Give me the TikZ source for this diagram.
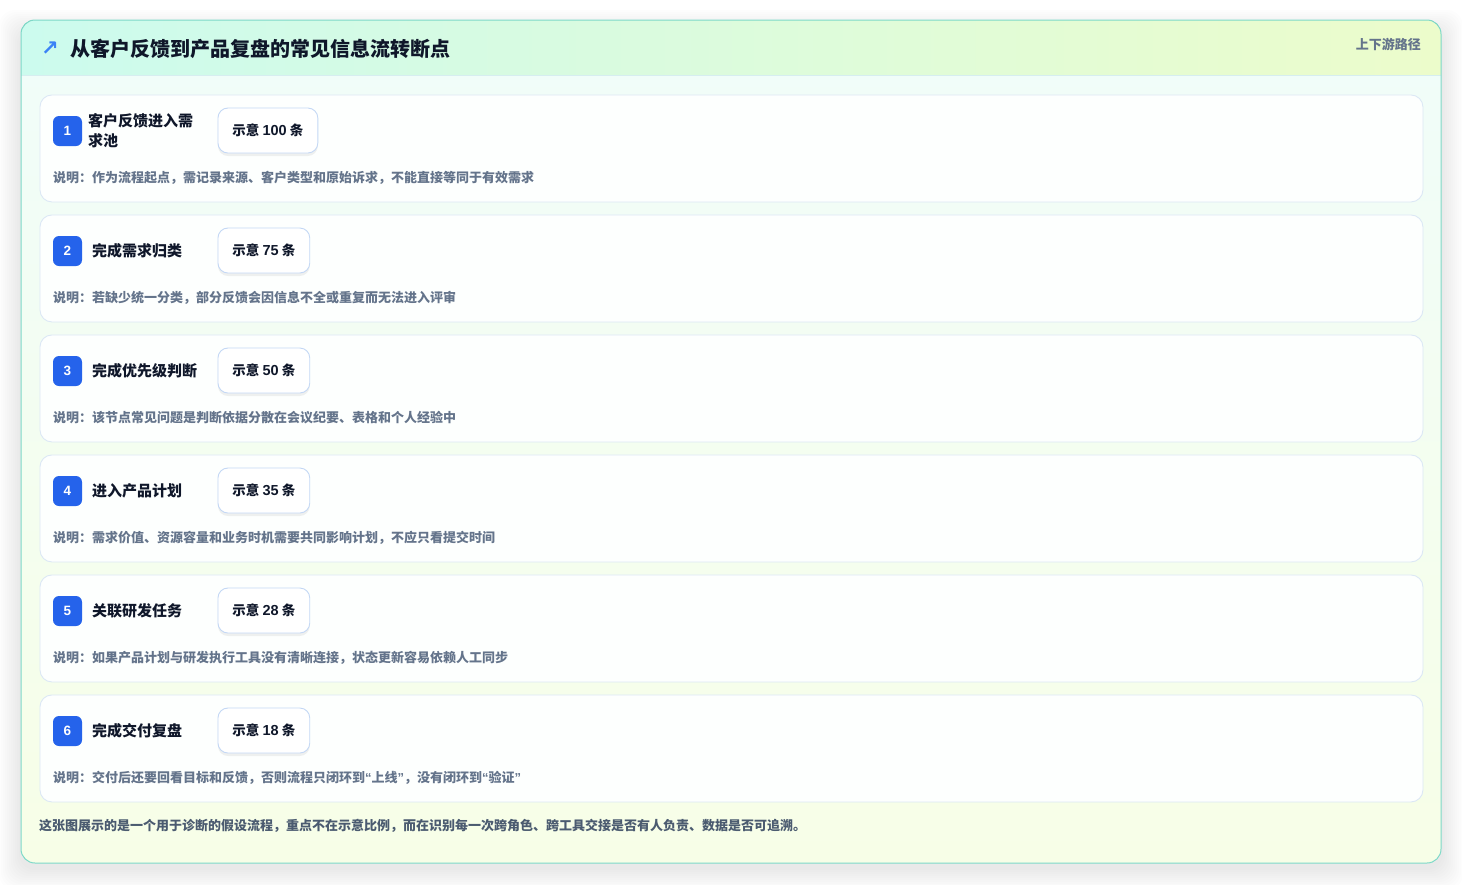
\documentclass[tikz,border=0pt]{standalone}
\usepackage{fontspec}
\setmainfont{Noto Sans CJK SC}
\newfontfamily\dejavu{DejaVu Sans}
\newfontfamily\latn{Liberation Sans}
\newfontfamily\latnb{Liberation Sans Bold}
\usetikzlibrary{shadows}
\definecolor{headl}{HTML}{CCFBEE}
\definecolor{headr}{HTML}{ECFCCB}
\definecolor{bodytop}{HTML}{F0FDFA}
\definecolor{bodybot}{HTML}{F7FEE7}
\definecolor{outerline}{HTML}{7DD9C8}
\definecolor{headsep}{HTML}{D6EEF0}
\definecolor{cardline}{HTML}{DCE8F5}
\definecolor{cardfill}{HTML}{FDFFFE}
\definecolor{badgeblue}{HTML}{2563EB}
\definecolor{pillline}{HTML}{C4D8F5}
\definecolor{ink}{HTML}{0F172A}
\definecolor{muted}{HTML}{64748B}
\definecolor{foot}{HTML}{4B5B70}
\definecolor{arrowblue}{HTML}{3B82F6}
\newcommand{\pnum}[1]{{\latnb\fontsize{14.5}{14}\selectfont #1}}
\newcommand{\myLq}{{\latn “}}
\newcommand{\myRq}{{\latn ”}}
\tikzset{
  cardbox/.style={draw=cardline, line width=0.9pt, fill=cardfill, rounded corners=12pt,
    minimum width=1383pt, minimum height=107pt, anchor=north west, inner sep=0pt},
  badge/.style={fill=badgeblue, rounded corners=6pt, minimum width=29pt, minimum height=30pt,
    inner sep=0pt, text=white, font=\latnb\fontsize{13.5}{13}\selectfont, anchor=center},
  ctitle/.style={anchor=west, inner sep=0pt, text=ink, font=\fontsize{15}{20}\selectfont\bfseries, align=left},
  pill/.style={draw=pillline, line width=0.9pt, fill=white, rounded corners=10pt, anchor=west,
    minimum height=45pt, inner xsep=14.5pt, inner ysep=0pt, text=ink,
    font=\fontsize{13.5}{14}\selectfont\bfseries,
    drop shadow={shadow xshift=0pt, shadow yshift=-3pt, opacity=0.06, fill=black}},
  desc/.style={anchor=west, inner sep=0pt, text=muted, font=\fontsize{13}{13}\selectfont\bfseries},
}
\begin{document}
\begin{tikzpicture}[x=1pt,y=-1pt]
\useasboundingbox (0,0) rectangle (1462,884);
\fill[white] (0,0) rectangle (1462,884);
% soft shadow of the outer panel
\foreach \s in {2,4,...,22} {
  \fill[black, opacity=0.009, rounded corners=16pt] (21-\s,20-\s+12) rectangle (1441+\s,863+\s+5);
}
% outer panel body
\path[rounded corners=14pt, top color=bodytop, bottom color=bodybot] (21,20) rectangle (1441,863);
\begin{scope}
  \clip[rounded corners=14pt] (21,20) rectangle (1441,863);
  \fill[left color=headl, right color=headr] (21,20) rectangle (1441,75);
  \draw[headsep, line width=0.9pt] (21,75.5) -- (1441,75.5);
\end{scope}
\draw[outerline, line width=1pt, rounded corners=14pt] (21,20) rectangle (1441,863);

% header
\node[anchor=west, inner sep=0pt, text=arrowblue, font=\dejavu\fontsize{21}{21}\selectfont\bfseries] (harrow) at (41,49) {↗};
\node[anchor=west, inner sep=0pt, text=ink, font=\fontsize{20}{20}\selectfont\bfseries] (htitle) at (70,49) {从客户反馈到产品复盘的常见信息流转断点};
\node[anchor=east, inner sep=0pt, text=muted, font=\fontsize{13}{13}\selectfont\bfseries] (hpath) at (1421,44) {上下游路径};

% cards
\node[cardbox] (c1) at (39.5,94.5) {};
\node[cardbox] (c2) at (39.5,214.5) {};
\node[cardbox] (c3) at (39.5,334.5) {};
\node[cardbox] (c4) at (39.5,454.5) {};
\node[cardbox] (c5) at (39.5,574.5) {};
\node[cardbox] (c6) at (39.5,694.5) {};

% card 1
\node[badge] (b1) at (67.5,131) {1};
\node[ctitle] (t1) at (88,131) {客户反馈进入需\\求池};
\node[pill] (p1) at (217.5,130.5) {示意 \pnum{100} 条};
\node[desc] (d1) at (53,178) {说明：作为流程起点，需记录来源、客户类型和原始诉求，不能直接等同于有效需求};

% card 2
\node[badge] (b2) at (67.5,251) {2};
\node[ctitle] (t2) at (92,251) {完成需求归类};
\node[pill] (p2) at (217.5,250.5) {示意 \pnum{75} 条};
\node[desc] (d2) at (53,298) {说明：若缺少统一分类，部分反馈会因信息不全或重复而无法进入评审};

% card 3
\node[badge] (b3) at (67.5,371) {3};
\node[ctitle] (t3) at (92,371) {完成优先级判断};
\node[pill] (p3) at (217.5,370.5) {示意 \pnum{50} 条};
\node[desc] (d3) at (53,418) {说明：该节点常见问题是判断依据分散在会议纪要、表格和个人经验中};

% card 4
\node[badge] (b4) at (67.5,491) {4};
\node[ctitle] (t4) at (92,491) {进入产品计划};
\node[pill] (p4) at (217.5,490.5) {示意 \pnum{35} 条};
\node[desc] (d4) at (53,538) {说明：需求价值、资源容量和业务时机需要共同影响计划，不应只看提交时间};

% card 5
\node[badge] (b5) at (67.5,611) {5};
\node[ctitle] (t5) at (92,611) {关联研发任务};
\node[pill] (p5) at (217.5,610.5) {示意 \pnum{28} 条};
\node[desc] (d5) at (53,658) {说明：如果产品计划与研发执行工具没有清晰连接，状态更新容易依赖人工同步};

% card 6
\node[badge] (b6) at (67.5,731) {6};
\node[ctitle] (t6) at (92,731) {完成交付复盘};
\node[pill] (p6) at (217.5,730.5) {示意 \pnum{18} 条};
\node[desc] (d6) at (53,778) {说明：交付后还要回看目标和反馈，否则流程只闭环到\myLq 上线\myRq，没有闭环到\myLq 验证\myRq};

% footer
\node[anchor=west, inner sep=0pt, text=foot, font=\fontsize{13}{13}\selectfont\bfseries] (foot) at (39,826) {这张图展示的是一个用于诊断的假设流程，重点不在示意比例，而在识别每一次跨角色、跨工具交接是否有人负责、数据是否可追溯。};
\end{tikzpicture}
\end{document}
